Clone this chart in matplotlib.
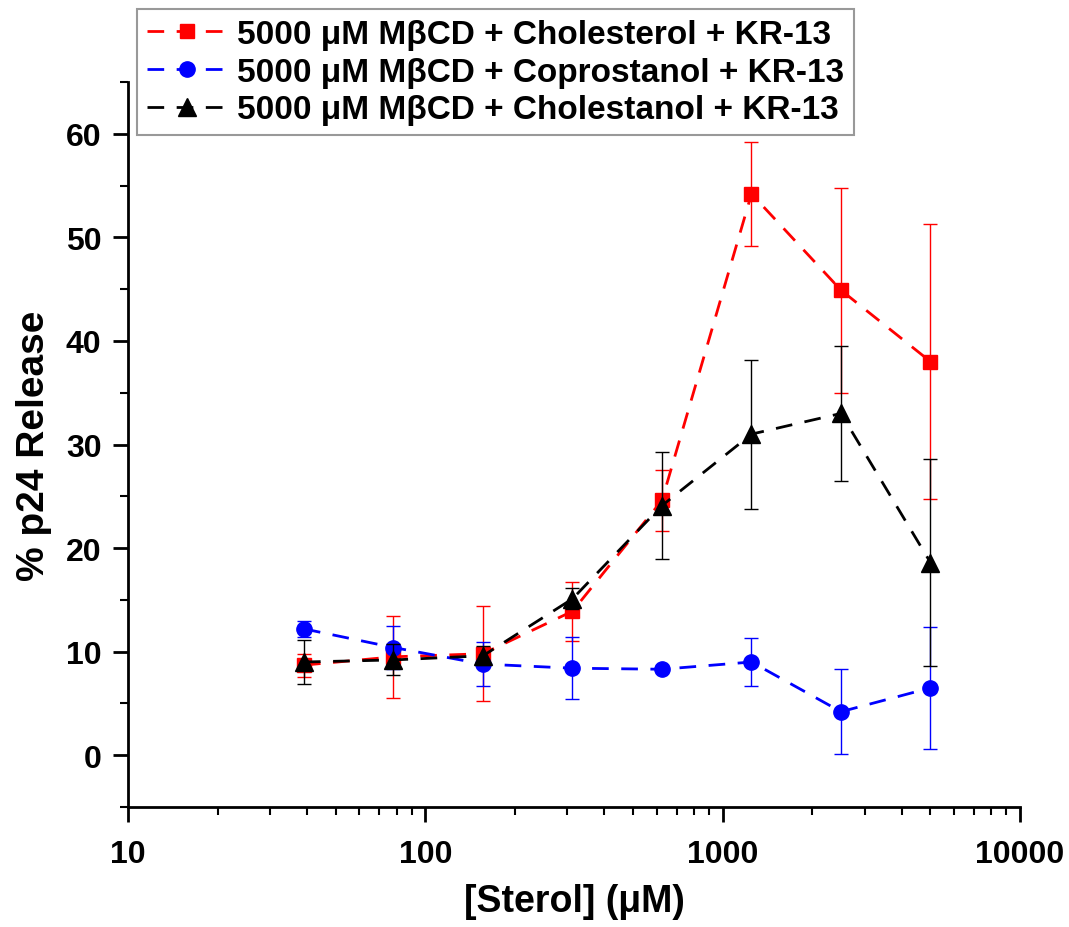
import matplotlib.pyplot as plt
import numpy as np

plt.rcParams['font.family'] = ['Liberation Sans', 'DejaVu Sans']
plt.rcParams['font.weight'] = 'bold'

# concentracoes (diluicao 1:2 a partir de 5000 uM)
sterol = np.array([39.0625, 78.125, 156.25, 312.5, 625, 1250, 2500, 5000])

colesterol = np.array([8.7, 9.5, 9.8, 13.9, 24.6, 54.2, 44.9, 38.0])
colesterol_err = np.array([1.1, 3.95, 4.6, 2.85, 2.95, 5.0, 9.9, 13.3])

coprostanol = np.array([12.2, 10.4, 8.8, 8.4, 8.3, 9.0, 4.2, 6.5])
coprostanol_err = np.array([0.8, 2.1, 2.1, 3.0, 0.3, 2.35, 4.1, 5.9])

colestanol = np.array([9.0, 9.2, 9.6, 15.1, 24.1, 31.0, 33.0, 18.6])
colestanol_err = np.array([2.1, 1.5, 0.9, 1.0, 5.15, 7.2, 6.5, 10.0])

nomes = ["5000 μM MβCD + Cholesterol + KR-13",
         "5000 μM MβCD + Coprostanol + KR-13",
         "5000 μM MβCD + Cholestanol + KR-13"]

fig = plt.figure(figsize=(10.69, 9.28), dpi=100)
ax = fig.add_axes([128/1069, 1-808/928, (1020-128)/1069, (808-83)/928])

series = [(colesterol, colesterol_err, 'red', 's', 10.5),
          (coprostanol, coprostanol_err, 'blue', 'o', 11),
          (colestanol, colestanol_err, 'black', '^', 12.5)]

linhas = []
for i, (y, err, cor, marca, ms) in enumerate(series):
    ax.errorbar(sterol, y, yerr=err, fmt='none', ecolor=cor, elinewidth=1,
                capsize=5, capthick=1, zorder=2 + i)
    l, = ax.plot(sterol, y, color=cor, linestyle=(0, (6, 4.5)), linewidth=2,
                 marker=marca, markersize=ms, label=nomes[i], zorder=2.5 + i)
    linhas.append(l)

ax.set_xscale('log')
ax.set_xlim(10, 10000)
ax.set_ylim(-5, 65)
ax.set_yticks(np.arange(0, 61, 10))
ax.set_yticks(np.arange(-5, 66, 5), minor=True)

for lado in ['top', 'right']:
    ax.spines[lado].set_visible(False)
for lado in ['left', 'bottom']:
    ax.spines[lado].set_linewidth(2)

ax.tick_params(which='major', direction='out', length=11, width=2, labelsize=23)
ax.tick_params(axis='x', which='major', pad=12)
ax.tick_params(axis='y', which='major', pad=8)
ax.tick_params(which='minor', direction='out', length=6, width=1.5)
ax.set_xticks([10, 100, 1000, 10000])
ax.set_xticklabels(['10', '100', '1000', '10000'])

ax.set_xlabel("[Sterol] (μM)", fontsize=27, fontweight='bold', labelpad=10)
ax.set_ylabel("% p24 Release", fontsize=28, fontweight='bold', labelpad=10)

leg = fig.legend(handles=linhas, loc='upper left', bbox_to_anchor=(137/1069, 1-10/928),
                 fontsize=24, frameon=True, fancybox=False, handlelength=2.4,
                 borderaxespad=0, labelspacing=0.2, handletextpad=0.3,
                 borderpad=0.3)
leg.get_frame().set_edgecolor('gray')
leg.get_frame().set_linewidth(1.5)
for t in leg.get_texts():
    t.set_fontweight('bold')

plt.savefig("out.png", dpi=100)
